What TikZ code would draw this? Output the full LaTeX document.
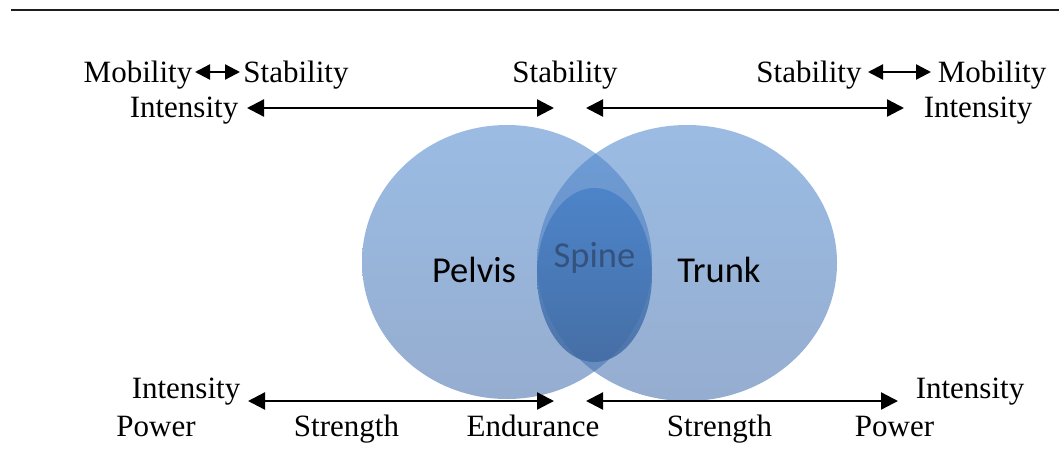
\documentclass[tikz,border=0pt]{standalone}
\usepackage{fontspec}
\setmainfont{Liberation Serif}
\newfontfamily\calfont{Carlito}
\usetikzlibrary{arrows.meta,shapes.geometric}
\definecolor{blueTop}{RGB}{73,132,204}
\definecolor{blueBot}{RGB}{62,106,169}
\definecolor{spineTop}{RGB}{70,128,200}
\definecolor{spineBot}{RGB}{62,104,160}
\definecolor{spineText}{RGB}{52,82,125}
\definecolor{ruleCol}{RGB}{30,30,30}
\tikzset{
  lbl/.style={font=\fontsize{31}{36}\selectfont, anchor=base, inner sep=0pt},
  vlbl/.style={font=\calfont\fontsize{36.5}{42}\selectfont, anchor=base, inner sep=0pt},
  bigcirc/.style={ellipse, inner sep=0pt, top color=blueTop, bottom color=blueBot, fill opacity=0.55, draw=none},
  spinecirc/.style={ellipse, inner sep=0pt, top color=spineTop, bottom color=spineBot, fill opacity=0.8, draw=none},
  longarr/.style={{Triangle[length=17pt,width=17pt]}-{Triangle[length=17pt,width=17pt]}, line width=2.3pt},
  shortarr/.style={{Triangle[length=15pt,width=15pt]}-{Triangle[length=15pt,width=15pt]}, line width=2.3pt},
}
\begin{document}
\begin{tikzpicture}[x=1pt,y=-1pt]
\useasboundingbox (0,0) rectangle (1059,474);
% top rule
\coordinate (r1) at (11,10);
\coordinate (r2) at (1059,10);
\draw[ruleCol, line width=2.6pt] (r1) -- (r2);
% circles
\node[bigcirc, minimum width=290pt, minimum height=274pt] (pelvisc) at (507,262) {};
\node[bigcirc, minimum width=300pt, minimum height=276pt] (trunkc) at (687,263) {};
\node[spinecirc, minimum width=115pt, minimum height=174pt] (spinec) at (594.5,275) {};
\node[vlbl] (pelvis) at (474,282) {Pelvis};
\node[vlbl] (trunk) at (719,282) {Trunk};
\node[vlbl, text=spineText] (spine) at (594.5,267) {Spine};
% top labels
\node[lbl] (mob1) at (138,82) {Mobility};
\node[lbl] (stab1) at (296,82) {Stability};
\node[lbl] (stab2) at (565,82) {Stability};
\node[lbl] (stab3) at (809,82) {Stability};
\node[lbl] (mob2) at (992,82) {Mobility};
\node[lbl] (int1) at (184,117) {Intensity};
\node[lbl] (int2) at (978,117) {Intensity};
% bottom labels
\node[lbl] (int3) at (186,398) {Intensity};
\node[lbl] (int4) at (970,398) {Intensity};
\node[lbl] (pow1) at (156,436) {Power};
\node[lbl] (str1) at (346.5,436) {Strength};
\node[lbl] (end1) at (533,436) {Endurance};
\node[lbl] (str2) at (719.5,436) {Strength};
\node[lbl] (pow2) at (894.5,436) {Power};
% arrow end points
\coordinate (a1s) at (195,72); \coordinate (a1e) at (240,72);
\coordinate (a2s) at (868,72); \coordinate (a2e) at (931,72);
\coordinate (a3s) at (247,108); \coordinate (a3e) at (554,108);
\coordinate (a4s) at (586,108); \coordinate (a4e) at (904,108);
\coordinate (a5s) at (248,401); \coordinate (a5e) at (554,401);
\coordinate (a6s) at (586,401); \coordinate (a6e) at (898,401);
\draw[shortarr] (a1s) -- (a1e);
\draw[shortarr] (a2s) -- (a2e);
\draw[longarr] (a3s) -- (a3e);
\draw[longarr] (a4s) -- (a4e);
\draw[longarr] (a5s) -- (a5e);
\draw[longarr] (a6s) -- (a6e);
\end{tikzpicture}
\end{document}
